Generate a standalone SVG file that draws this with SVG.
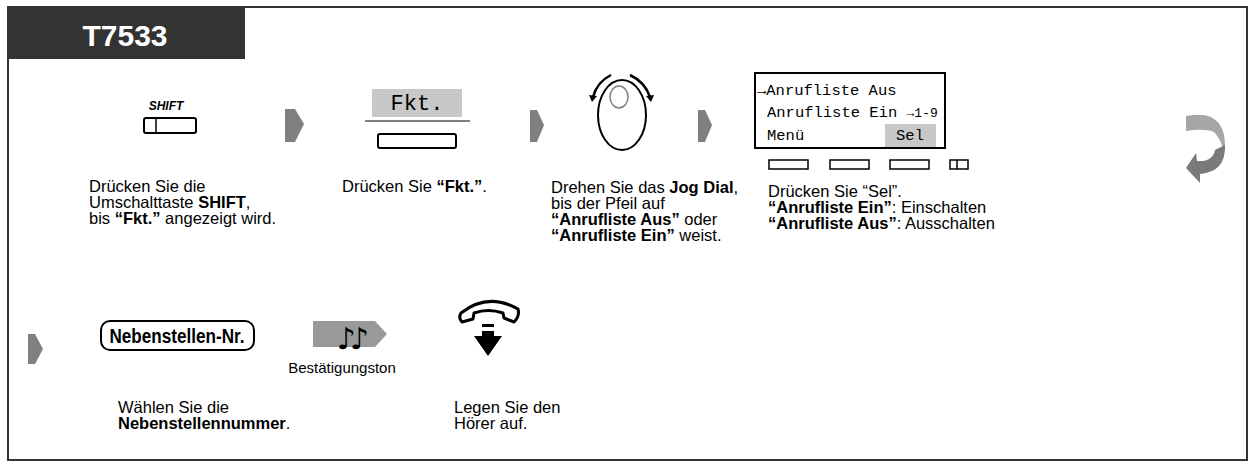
<svg xmlns="http://www.w3.org/2000/svg" width="1256" height="467" viewBox="0 0 1256 467">
<style>
.t{font-family:"Liberation Sans",Arial,sans-serif;font-size:16.5px;fill:#000}
.m{font-family:"Liberation Mono","Courier New",monospace;fill:#000}
.b{font-weight:bold}
.ar{fill:#808080}
</style>
<rect width="1256" height="467" fill="#fff"/>
<rect x="8" y="7" width="1239" height="453" fill="none" stroke="#333" stroke-width="2"/>
<g id="header"><rect x="8" y="7" width="237" height="52" fill="#333"/><text x="125" y="46" text-anchor="middle" font-family="Liberation Sans,Arial,sans-serif" font-weight="bold" font-size="30" fill="#fff">T7533</text></g>
<g id="connectors" class="ar">
<polygon points="285,109 295,109 304,124 295,142 285,142"/>
<polygon points="530,110 537,110 544,125 537,142 530,142"/>
<polygon points="698,110 705,110 712,125 705,142 698,142"/>
<polygon points="28,334 35,334 43,349 35,364 28,364"/>
<path d="M1186,116 Q1226,108 1225,148 Q1224,160 1215,162 Q1230,150 1214,132 Q1204,128 1186,131 Z" fill="#a6a6a6"/>
<path d="M1225,145 Q1226,172 1200,174 L1200,183 L1186,168 L1196,153 L1197,161 Q1213,162 1215,150 Z" fill="#7a7a7a"/>
</g>
<g id="shift"><text x="166" y="110" text-anchor="middle" font-family="Liberation Sans,Arial,sans-serif" font-weight="bold" font-style="italic" font-size="12">SHIFT</text>
<rect x="144" y="118" width="52" height="15" rx="2" fill="none" stroke="#000" stroke-width="2"/><line x1="156" y1="119" x2="156" y2="132" stroke="#000" stroke-width="1.5"/>
<text class="t" x="89" y="192">Drücken Sie die</text><text class="t" x="89" y="208">Umschalttaste <tspan class="b">SHIFT</tspan>,</text><text class="t" x="89" y="224">bis <tspan class="b">“Fkt.”</tspan> angezeigt wird.</text></g>
<g id="fkt"><rect x="372" y="89" width="90" height="28" fill="#c8c8c8"/><text class="m" x="417" y="110" text-anchor="middle" style="font-size:22px">Fkt.</text>
<line x1="365" y1="121" x2="470" y2="121" stroke="#000" stroke-width="1"/><rect x="378" y="134" width="78" height="14" rx="2" fill="none" stroke="#000" stroke-width="2"/>
<text class="t" x="342" y="192">Drücken Sie <tspan class="b">“Fkt.”</tspan>.</text></g>
<g id="dial"><ellipse cx="622" cy="115" rx="24" ry="35" fill="none" stroke="#000" stroke-width="2"/><ellipse cx="619" cy="97" rx="9" ry="11" fill="none" stroke="#808080" stroke-width="1.5"/>
<path d="M611,75 Q597,82 593,97" fill="none" stroke="#000" stroke-width="2.5"/><polygon points="589,95 597,96 592,102" fill="#000"/>
<path d="M630,75 Q645,82 650,97" fill="none" stroke="#000" stroke-width="2.5"/><polygon points="646,96 654,95 651,102" fill="#000"/>
<text class="t" x="551" y="193">Drehen Sie das <tspan class="b">Jog Dial</tspan>,</text><text class="t" x="551" y="209">bis der Pfeil auf</text><text class="t b" x="551" y="225">“Anrufliste Aus”<tspan font-weight="normal"> oder</tspan></text><text class="t b" x="551" y="241">“Anrufliste Ein”<tspan font-weight="normal"> weist.</tspan></text></g>
<g id="lcd"><rect x="755" y="73" width="190" height="75" fill="#fff" stroke="#000" stroke-width="2"/><rect x="885" y="124" width="51" height="23" fill="#c8c8c8"/>
<g class="m" style="font-size:15.5px"><text x="757" y="95">→Anrufliste Aus</text><text x="767" y="117">Anrufliste Ein <tspan style="font-size:13px">→1-9</tspan></text><text x="767" y="140">Menü</text><text x="910" y="140" text-anchor="middle">Sel</text></g>
<g fill="none" stroke="#000" stroke-width="1.5"><rect x="769" y="160" width="39" height="9"/><rect x="830" y="160" width="39" height="9"/><rect x="890" y="160" width="39" height="9"/><rect x="950" y="160" width="18" height="9"/><line x1="957" y1="160" x2="957" y2="169"/></g>
<text class="t" x="768" y="197">Drücken Sie “Sel”.</text><text class="t" x="768" y="213"><tspan class="b">“Anrufliste Ein”</tspan>: Einschalten</text><text class="t" x="768" y="229"><tspan class="b">“Anrufliste Aus”</tspan>: Ausschalten</text></g>
<g id="ext"><rect x="101" y="321" width="153" height="29" rx="9" fill="none" stroke="#000" stroke-width="2"/><text x="177" y="343" text-anchor="middle" font-family="Liberation Sans,Arial,sans-serif" font-weight="bold" font-size="20" textLength="135" lengthAdjust="spacingAndGlyphs">Nebenstellen-Nr.</text>
<text class="t" x="118" y="413">Wählen Sie die</text><text class="t b" x="118" y="429">Nebenstellennummer<tspan font-weight="normal">.</tspan></text></g>
<g id="tone"><polygon points="313,321 375,321 387,334 375,347 313,347" fill="#999"/>
<text x="350" y="349" text-anchor="middle" font-family="DejaVu Sans,sans-serif" font-weight="bold" font-size="30" letter-spacing="-6">♪♪</text>
<text x="342" y="373" text-anchor="middle" font-family="Liberation Sans,Arial,sans-serif" font-size="15">Bestätigungston</text></g>
<g id="hangup"><path d="M461,313 Q488,292 518,309 Q520,316 514,322 L504,318 L503,313 Q488,308 474,313 L473,319 L462,322 Q458,318 461,313 Z" fill="none" stroke="#000" stroke-width="3" stroke-linejoin="round"/>
<rect x="482" y="324" width="12" height="3" fill="#000"/><polygon points="482,331 494,331 494,336 502,336 488,356 474,336 482,336" fill="#000"/>
<text class="t" x="454" y="413">Legen Sie den</text><text class="t" x="454" y="429">Hörer auf.</text></g>
</svg>
